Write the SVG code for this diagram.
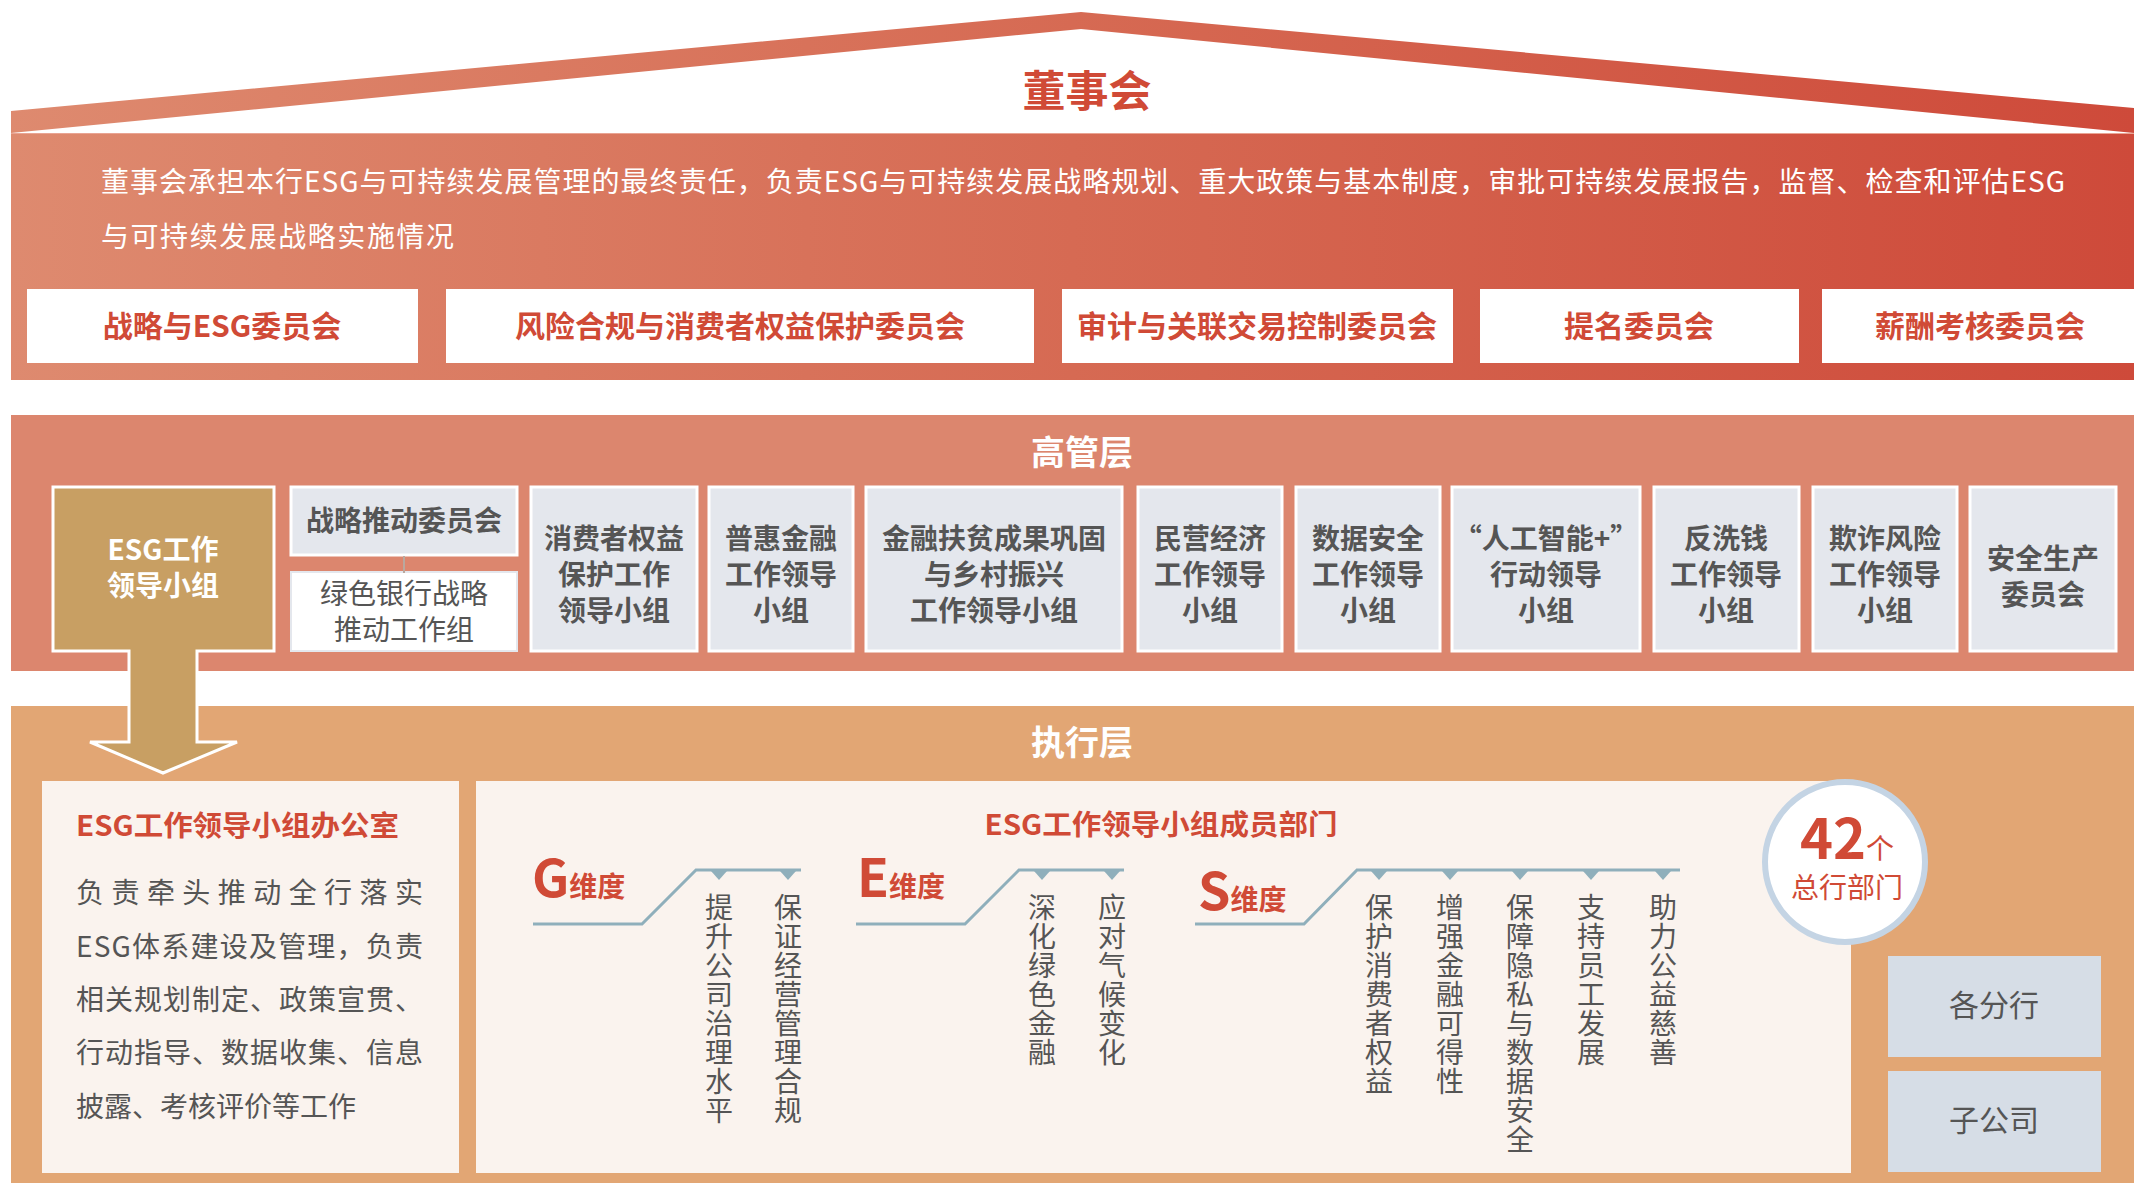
<svg xmlns="http://www.w3.org/2000/svg" width="2134" height="1183" viewBox="0 0 2134 1183">
<defs>
<linearGradient id="redGrad" x1="0" y1="0" x2="1" y2="0">
<stop offset="0" stop-color="#DE8A6F"/>
<stop offset="0.5" stop-color="#D66A53"/>
<stop offset="1" stop-color="#CE4A3A"/>
</linearGradient>
<style>
text{font-family:"Noto Sans CJK SC","Noto Sans",sans-serif;}
.red{fill:#D04A36;}
.gray{fill:#555555;}
.white{fill:#FFFFFF;}
.b{font-weight:bold;}
.c{text-anchor:middle;}
.cbox{fill:#FFFFFF;}
.gbox{fill:#E4E7ED;stroke:#FFFFFF;stroke-width:3;}
.rbox{fill:#D6DDE6;}
.cream{fill:#FAF3EE;}
.dim{fill:none;stroke:#8FAFBB;stroke-width:3;}
.tri{fill:#8FAFBB;}
.vt{font-size:28px;fill:#555555;text-anchor:middle;}
.vcol{font-size:28px;fill:#555555;writing-mode:vertical-rl;text-orientation:upright;letter-spacing:1px;}
.gt{font-size:28px;font-weight:bold;fill:#555555;text-anchor:middle;}
.ct{font-size:30px;font-weight:bold;fill:#D04A36;text-anchor:middle;}
</style>
</defs>
<rect width="2134" height="1183" fill="#FFFFFF"/>

<!-- Board section -->
<g id="board">
<polygon points="11,111 1081,12 2134,108 2134,133 1081,29 11,133" fill="url(#redGrad)"/>
<rect x="11" y="133" width="2123" height="247" fill="url(#redGrad)"/>
<line x1="11" y1="133.5" x2="2134" y2="133.5" stroke="#E9A493" stroke-width="1"/>
<text x="1087" y="107" class="red b c" font-size="43">董事会</text>
<text x="101" y="192" class="white" font-size="28" textLength="1964" lengthAdjust="spacing">董事会承担本行ESG与可持续发展管理的最终责任，负责ESG与可持续发展战略规划、重大政策与基本制度，审批可持续发展报告，监督、检查和评估ESG</text>
<text x="101" y="247" class="white" font-size="28" textLength="353" lengthAdjust="spacing">与可持续发展战略实施情况</text>
</g>
<g id="committee-1"><rect x="27" y="289" width="391" height="74" class="cbox"/><text x="222" y="337" class="ct">战略与ESG委员会</text></g>
<g id="committee-2"><rect x="446" y="289" width="588" height="74" class="cbox"/><text x="740" y="337" class="ct">风险合规与消费者权益保护委员会</text></g>
<g id="committee-3"><rect x="1062" y="289" width="391" height="74" class="cbox"/><text x="1257" y="337" class="ct">审计与关联交易控制委员会</text></g>
<g id="committee-4"><rect x="1480" y="289" width="319" height="74" class="cbox"/><text x="1639" y="337" class="ct">提名委员会</text></g>
<g id="committee-5"><rect x="1822" y="289" width="312" height="74" class="cbox"/><text x="1980" y="337" class="ct">薪酬考核委员会</text></g>

<!-- Senior management band -->
<g id="senior">
<rect x="11" y="415" width="2123" height="256" fill="#DC866E"/>
<text x="1082" y="465" class="white b c" font-size="34">高管层</text>
</g>

<!-- Execution band -->
<g id="execution">
<rect x="11" y="706" width="2123" height="477" fill="#E2A674"/>
<text x="1082" y="755" class="white b c" font-size="34">执行层</text>
</g>

<!-- ESG leading group with arrow -->
<g id="esg-leading-group">
<polygon points="53,487 274,487 274,651 197,651 197,742 237,742 163,773 90,742 129,742 129,651 53,651" fill="#C89F63" stroke="#FFFFFF" stroke-width="3" stroke-linejoin="miter"/>
<text x="163" y="560" class="white b c" font-size="28">ESG工作</text>
<text x="163" y="596" class="white b c" font-size="28">领导小组</text>
</g>

<g id="strategy-promotion"><rect x="291" y="487" width="226" height="68" class="gbox"/><text x="404" y="531" class="gt">战略推动委员会</text></g>
<g id="green-bank"><rect x="291" y="572" width="226" height="79" fill="#FFFFFF" stroke="#E4E7ED" stroke-width="2"/><text x="404" y="604" class="vt">绿色银行战略</text><text x="404" y="640" class="vt">推动工作组</text></g>
<g id="consumer-group"><rect x="531" y="487" width="166" height="164" class="gbox"/><text x="614" y="549" class="gt">消费者权益</text><text x="614" y="585" class="gt">保护工作</text><text x="614" y="621" class="gt">领导小组</text></g>
<g id="inclusive-group"><rect x="709" y="487" width="144" height="164" class="gbox"/><text x="781" y="549" class="gt">普惠金融</text><text x="781" y="585" class="gt">工作领导</text><text x="781" y="621" class="gt">小组</text></g>
<g id="poverty-group"><rect x="866" y="487" width="256" height="164" class="gbox"/><text x="994" y="549" class="gt">金融扶贫成果巩固</text><text x="994" y="585" class="gt">与乡村振兴</text><text x="994" y="621" class="gt">工作领导小组</text></g>
<g id="private-group"><rect x="1138" y="487" width="144" height="164" class="gbox"/><text x="1210" y="549" class="gt">民营经济</text><text x="1210" y="585" class="gt">工作领导</text><text x="1210" y="621" class="gt">小组</text></g>
<g id="data-group"><rect x="1296" y="487" width="144" height="164" class="gbox"/><text x="1368" y="549" class="gt">数据安全</text><text x="1368" y="585" class="gt">工作领导</text><text x="1368" y="621" class="gt">小组</text></g>
<g id="ai-group"><rect x="1452" y="487" width="188" height="164" class="gbox"/><text x="1546" y="549" class="gt">“人工智能+”</text><text x="1546" y="585" class="gt">行动领导</text><text x="1546" y="621" class="gt">小组</text></g>
<g id="aml-group"><rect x="1654" y="487" width="145" height="164" class="gbox"/><text x="1726" y="549" class="gt">反洗钱</text><text x="1726" y="585" class="gt">工作领导</text><text x="1726" y="621" class="gt">小组</text></g>
<g id="fraud-group"><rect x="1813" y="487" width="144" height="164" class="gbox"/><text x="1885" y="549" class="gt">欺诈风险</text><text x="1885" y="585" class="gt">工作领导</text><text x="1885" y="621" class="gt">小组</text></g>
<g id="safety-committee"><rect x="1970" y="487" width="146" height="164" class="gbox"/><text x="2043" y="569" class="gt">安全生产</text><text x="2043" y="605" class="gt">委员会</text></g>

<!-- Office box -->
<g id="esg-office">
<rect x="42" y="781" width="417" height="392" class="cream"/>
<text x="76" y="836" class="red b" font-size="28" textLength="323" lengthAdjust="spacingAndGlyphs">ESG工作领导小组办公室</text>
<text x="76" y="903" class="gray" font-size="28" textLength="347" lengthAdjust="spacing">负责牵头推动全行落实</text>
<text x="76" y="957" class="gray" font-size="28" textLength="347" lengthAdjust="spacing">ESG体系建设及管理，负责</text>
<text x="76" y="1010" class="gray" font-size="28" textLength="347" lengthAdjust="spacing">相关规划制定、政策宣贯、</text>
<text x="76" y="1063" class="gray" font-size="28" textLength="347" lengthAdjust="spacing">行动指导、数据收集、信息</text>
<text x="76" y="1117" class="gray" font-size="28">披露、考核评价等工作</text>
</g>

<!-- Member departments -->
<g id="member-departments">
<rect x="476" y="781" width="1375" height="392" class="cream"/>
<text x="1161" y="835" class="red b c" font-size="28" textLength="353" lengthAdjust="spacingAndGlyphs">ESG工作领导小组成员部门</text>
</g>

<!-- connectors -->
<g id="connectors">
<line x1="404" y1="556" x2="404" y2="573" stroke="#B9A89E" stroke-width="2"/>
<polyline class="dim" points="533,924 642,924 696,870 801,870"/>
<polygon class="tri" points="711,871 727,871 719,880"/>
<polygon class="tri" points="780,871 796,871 788,880"/>
<polyline class="dim" points="856,924 965,924 1019,870 1124,870"/>
<polygon class="tri" points="1034,871 1050,871 1042,880"/>
<polygon class="tri" points="1104,871 1120,871 1112,880"/>
<polyline class="dim" points="1195,924 1304,924 1357,870 1680,870"/>
<polygon class="tri" points="1371,871 1387,871 1379,880"/>
<polygon class="tri" points="1442,871 1458,871 1450,880"/>
<polygon class="tri" points="1512,871 1528,871 1520,880"/>
<polygon class="tri" points="1583,871 1599,871 1591,880"/>
<polygon class="tri" points="1655,871 1671,871 1663,880"/>
</g>

<g id="g-dimension">
<text x="532" y="897" class="red b"><tspan font-size="52">G</tspan><tspan font-size="28">维度</tspan></text>
<text x="719" y="893" class="vcol">提升公司治理水平</text>
<text x="788" y="893" class="vcol">保证经营管理合规</text>
</g>

<g id="e-dimension">
<text x="857" y="897" class="red b"><tspan font-size="52">E</tspan><tspan font-size="28">维度</tspan></text>
<text x="1042" y="893" class="vcol">深化绿色金融</text>
<text x="1112" y="893" class="vcol">应对气候变化</text>
</g>

<g id="s-dimension">
<text x="1198" y="910" class="red b"><tspan font-size="52">S</tspan><tspan font-size="28">维度</tspan></text>
<text x="1379" y="893" class="vcol">保护消费者权益</text>
<text x="1450" y="893" class="vcol">增强金融可得性</text>
<text x="1520" y="893" class="vcol">保障隐私与数据安全</text>
<text x="1591" y="893" class="vcol">支持员工发展</text>
<text x="1663" y="893" class="vcol">助力公益慈善</text>
</g>

<g id="hq-departments">
<circle cx="1845" cy="862" r="80" fill="#FFFFFF" stroke="#C4D4E4" stroke-width="6"/>
<text x="1800" y="859" class="red b"><tspan font-size="56">42</tspan><tspan font-size="28" font-weight="normal">个</tspan></text>
<text x="1847" y="898" class="red c" font-size="28">总行部门</text>
</g>

<g id="branches"><rect x="1888" y="956" width="213" height="101" class="rbox"/><text x="1994" y="1016" class="gray c" font-size="30">各分行</text></g>
<g id="subsidiaries"><rect x="1888" y="1071" width="213" height="101" class="rbox"/><text x="1994" y="1131" class="gray c" font-size="30">子公司</text></g>
</svg>
